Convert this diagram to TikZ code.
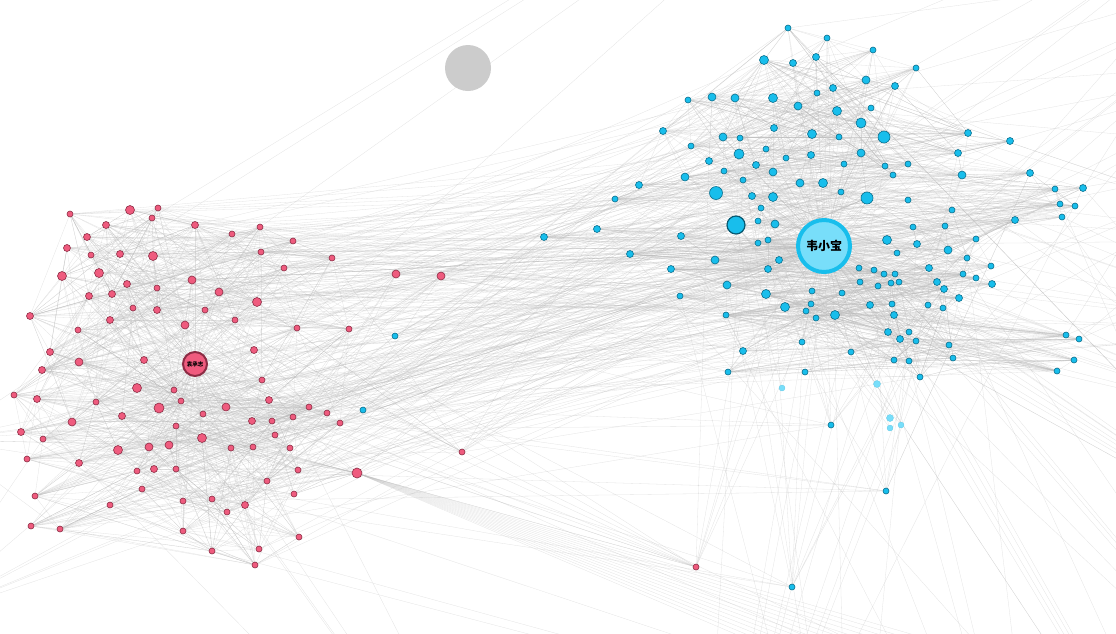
\documentclass[tikz,border=0pt]{standalone}
\usepackage{fontspec}
\newfontfamily\cjk{Noto Sans CJK SC}
\usetikzlibrary{backgrounds}
\definecolor{bfill}{RGB}{24,190,236}
\definecolor{bline}{RGB}{10,110,140}
\definecolor{pfill}{RGB}{239,91,126}
\definecolor{pline}{RGB}{140,44,68}
\definecolor{pale}{RGB}{120,222,250}
\definecolor{edgegray}{RGB}{185,185,185}
\begin{document}
\begin{tikzpicture}[x=1pt,y=-1pt,
  bnode/.style={circle,inner sep=0pt,fill=bfill,draw=bline,line width=0.6pt},
  pnode/.style={circle,inner sep=0pt,fill=pfill,draw=pline,line width=0.6pt},
  palenode/.style={circle,inner sep=0pt,fill=pale,draw=pale!80!bline,line width=0.3pt},
  edge/.style={draw=edgegray,line width=0.3pt,opacity=0.4}]
\useasboundingbox (0,0) rectangle (1116,633);
% hubs
\node[circle,inner sep=0pt,minimum size=52pt,fill=pale,draw=bfill,line width=4pt,font=\cjk\bfseries\fontsize{12}{12}\selectfont] (wxb) at (824,246) {韦小宝};
\node[circle,inner sep=0pt,minimum size=24pt,fill=pfill,draw=pline,line width=2pt,font=\cjk\bfseries\fontsize{5.5}{6}\selectfont] (ycz) at (195,364) {袁承志};
\node[circle,inner sep=0pt,minimum size=46pt,fill=black!20] (grey) at (468,68) {};
% blue community
\foreach \x/\y/\rad [count=\i] in {788/28/3,827/38/3,873/50/3,764/60/4.5,793/63/3.5,816/57/3.5,916/68/3,866/80/4,895/86/3.5,688/100/3,
 712/97/4,735/98/4,773/98/4.5,817/93/3,833/88/3.5,798/106/4,837/111/4.5,871/108/3,861/123/5,663/131/3.5,
 723/137/4,740/138/3,774/128/3.5,812/134/4.5,839/137/3,884/137/6,968/133/3.5,1010/141/3.5,691/146/3,739/154/5,
 766/149/3,811/155/3.5,861/153/4,958/153/3.5,709/161/3.5,756/165/3.5,786/158/3,844/164/3,885/166/3,908/164/3,
 893/175/3,962/175/4,1030/173/3.5,639/185/3.5,685/177/4,724/171/3,773/172/4,743/180/3,800/183/4,823/183/4.5,
 615/199/3,716/193/6.5,752/196/3.5,773/197/4.5,841/192/3,867/198/6,908/200/3,1055/189/3,1083/188/3.5,1060/204/3,
 1075/206/3,1062/217/3,952/210/3,761/208/3,758/221/3,775/224/4,597/229/3.5,544/237/3.5,681/236/3.5,913/227/3,
 945/226/3,1015/220/3.5,758/243/3,768/240/3,887/240/4.5,976/239/3,630/254/3.5,917/244/3.5,897/253/3,948/250/4,
 715/260/4,671/269/3.5,779/260/3.5,768/269/3.5,967/258/3,991/266/3,859/268/3,874/270/3,884/274/3,895/274/3,
 929/268/3.5,963/274/3,976/278/3,992/284/3.5,860/282/3,878/286/3,891/283/3,899/282/3,937/282/3.5,944/289/3.5,
 959/298/3.5,727/285/4,766/294/4.5,680/296/3,812/291/3,842/293/3,785/307/4.5,811/304/3,806/311/3,816/318/3,
 835/315/4.5,870/305/3.5,892/304/3,894/315/3.5,928/305/3,943/308/3,726/315/3,888/332/3.5,909/332/3,900/339/3.5,
 916/341/3,949/345/3,953/358/3,1066/335/3,1079/339/3,1074/360/3,1057/371/3,743/351/3.5,802/342/3,851/352/3,
 894/360/3,909/361/3,920/377/3,728/372/3,805/372/3}
{\node[bnode,minimum size={2*\rad*1pt}] (b\i) at (\x,\y) {}; \xdef\nb{\i}}
\node[bnode,minimum size=18pt,draw=bline!80!black,line width=1.2pt] (b0) at (736,225) {};
\foreach \x/\y/\rad [count=\i] in {782/388/3,877/384/3.5,890/418/3.5,890/428/3,901/425/3}
{\node[palenode,minimum size={2*\rad*1pt}] (q\i) at (\x,\y) {};}
% blue strays
\foreach \x/\y [count=\i] in {831/425,886/491,792/587,395/336,363/410}
{\node[bnode,minimum size=6pt] (bs\i) at (\x,\y) {};}
% pink community
\foreach \x/\y/\rad [count=\i] in {70/214/3,130/210/4.5,158/208/3,152/218/3,106/225/3.5,87/237/3.5,195/225/3.5,232/234/3,260/227/3,293/241/3,
 67/248/3.5,91/255/3,120/254/3.5,153/256/4.5,261/252/3,284/268/3,332/258/3,62/276/4.5,99/273/4.5,127/284/3.5,
 157/288/3,192/280/4,219/292/4,89/296/3.5,112/294/3.5,257/302/4.5,133/308/3,157/310/3.5,205/310/3,30/316/3.5,
 110/320/3.5,235/320/3,185/325/4,78/330/3,297/328/3,349/329/3,254/350/3.5,50/352/3.5,79/362/4,144/360/3.5,
 42/370/3.5,262/380/3,137/388/4.5,174/390/3,14/395/3,37/399/3.5,96/402/3,181/401/3,269/400/3.5,159/408/5,
 226/407/4,309/407/3,327/413/3,72/422/4,122/416/3.5,203/414/3,293/417/3,252/421/3.5,272/421/3,340/423/3,
 21/432/3.5,43/439/3,176/426/3,275/435/3,118/450/4.5,149/447/4,169/445/4,202/438/4.5,231/448/3,253/447/3,
 290/448/3,27/459/3,79/463/3.5,137/471/3,154/469/3.5,176/469/3,298/470/3,357/473/5,267/481/3,35/496/3,
 142/489/3,110/505/3,183/501/3,212/499/3,245/505/3.5,227/512/3,294/494/3,31/526/3,60/529/3,183/531/3,
 212/551/3,259/549/3,255/565/3,299/537/3}
{\node[pnode,minimum size={2*\rad*1pt}] (p\i) at (\x,\y) {}; \xdef\np{\i}}
% pink strays
\foreach \x/\y/\rad [count=\i] in {396/274/4,441/276/4,462/452/3,696/567/3}
{\node[pnode,minimum size={2*\rad*1pt}] (ps\i) at (\x,\y) {};}
% free ends outside the frame
\foreach \x/\y [count=\i] in {1300/-150,1300/-40,1300/60,1300/150,1300/240,1300/330,1300/430,1300/560,1300/760,1250/950,
 1050/950,850/950,700/950,1200/810,1000/-300,-60/440,560/950,-80/620}
{\coordinate (far\i) at (\x,\y); \xdef\nf{\i}}
\foreach \i in {1,...,14} {\coordinate (fan\i) at (1150+8*\i,820-6*\i);}
\begin{scope}[on background layer]
\clip (0,0) rectangle (1116,633);
\pgfmathsetseed{1117}
\foreach \i in {0,...,\nb} {\draw[edge] (wxb) -- (b\i);}
\foreach \i in {1,...,5} {\draw[edge] (wxb) -- (q\i); \draw[edge] (b0) -- (q\i);}
\foreach \i in {1,...,\np} {\draw[edge] (ycz) -- (p\i);}
\foreach \k in {1,...,1300}
{\pgfmathrandominteger{\a}{1}{\nb}\pgfmathrandominteger{\d}{-25}{25}
 \pgfmathtruncatemacro{\c}{(\a+\d<0 || \a+\d>\nb) ? \a-\d : \a+\d}\draw[edge] (b\a) -- (b\c);}
\foreach \k in {1,...,900}
{\pgfmathrandominteger{\a}{1}{\np}\pgfmathrandominteger{\d}{-30}{30}
 \pgfmathtruncatemacro{\c}{(\a+\d<1 || \a+\d>\np) ? \a-\d : \a+\d}\draw[edge] (p\a) -- (p\c);}
\foreach \k in {1,...,220}
{\pgfmathrandominteger{\a}{1}{\np}\pgfmathrandominteger{\c}{0}{\nb}\draw[edge] (p\a) -- (b\c);}
\foreach \k in {1,...,60} {\pgfmathrandominteger{\a}{1}{\np}\draw[edge] (wxb) -- (p\a);}
% strays
\foreach \s in {1,...,4} {\draw[edge] (ycz) -- (ps\s); \draw[edge] (wxb) -- (ps\s);
 \foreach \k in {1,...,8} {\pgfmathrandominteger{\a}{1}{\np}\draw[edge] (ps\s) -- (p\a);}
 \foreach \k in {1,...,5} {\pgfmathrandominteger{\a}{0}{\nb}\draw[edge] (ps\s) -- (b\a);}}
\foreach \s in {1,...,5} {\draw[edge] (wxb) -- (bs\s);
 \foreach \k in {1,...,6} {\pgfmathrandominteger{\a}{0}{\nb}\draw[edge] (bs\s) -- (b\a);}
 \foreach \k in {1,...,4} {\pgfmathrandominteger{\a}{1}{\np}\draw[edge] (bs\s) -- (p\a);}}
\foreach \k in {1,...,110}
{\pgfmathrandominteger{\a}{1}{\nb}\pgfmathrandominteger{\c}{1}{13}\draw[edge] (b\a) -- (far\c);}
\foreach \k in {1,...,30}
{\pgfmathrandominteger{\a}{1}{\np}\pgfmathrandominteger{\c}{14}{\nf}\draw[edge] (p\a) -- (far\c);}
\foreach \i in {1,...,14} {\draw[edge] (p78) -- (fan\i);}
\end{scope}
\end{tikzpicture}
\end{document}
